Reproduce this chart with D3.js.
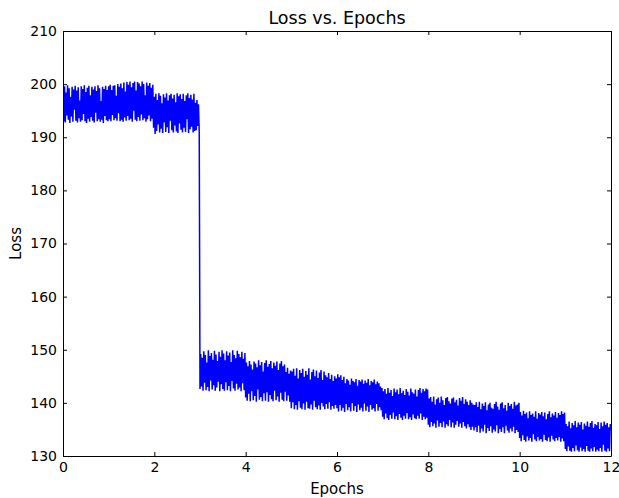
<!DOCTYPE html>
<html>
<head>
<meta charset="utf-8">
<script src="https://cdn.jsdelivr.net/npm/d3@7"></script>
<style>
  body { margin: 0; background: #fff; }
  text { font-family: "DejaVu Sans", sans-serif; fill: #000; }
</style>
</head>
<body>
<div id="chart"></div>
<script>
// loss values, 60 samples per epoch
var lossEpoch0 = [199.1, 193.0, 199.6, 192.8, 198.4, 194.1, 199.8, 193.3, 199.2, 192.7, 197.6, 193.9, 199.5, 192.9, 199.0, 195.2, 199.7, 193.1, 198.8, 192.8, 199.4, 193.6, 196.9, 192.9, 199.6, 193.2, 199.1, 194.4, 199.8, 193.0, 198.5, 192.7, 199.3, 193.5, 199.7, 192.9, 197.9, 193.8, 199.5, 193.1, 199.0, 192.8, 199.6, 194.6, 198.7, 193.0, 199.8, 193.4, 199.2, 192.9, 196.8, 193.3, 199.5, 192.7, 199.1, 194.0, 199.7, 193.2, 198.9, 193.0];
var lossEpoch1 = [199.6, 193.4, 199.9, 193.0, 198.9, 194.2, 199.7, 193.2, 199.8, 193.6, 197.8, 193.1, 200.0, 194.5, 199.5, 193.0, 200.1, 193.3, 199.2, 192.9, 200.3, 193.7, 198.6, 193.1, 200.4, 194.0, 199.9, 193.2, 200.5, 193.5, 199.4, 192.9, 200.2, 195.0, 200.5, 193.3, 198.8, 193.0, 200.4, 193.8, 200.1, 193.1, 199.6, 194.3, 200.5, 193.2, 200.0, 193.6, 197.9, 192.9, 200.3, 193.4, 199.7, 194.1, 200.2, 193.0, 199.3, 193.5, 199.9, 191.8];
var lossEpoch2 = [197.6, 190.6, 198.2, 191.2, 197.0, 192.4, 198.3, 190.9, 197.8, 191.6, 196.4, 190.8, 198.1, 192.8, 197.5, 191.0, 198.3, 191.9, 196.9, 190.8, 197.9, 193.1, 198.2, 191.3, 197.3, 190.9, 198.0, 192.2, 196.6, 191.1, 198.3, 190.8, 197.7, 192.6, 198.1, 191.4, 197.2, 190.9, 198.2, 191.8, 196.8, 191.0, 197.9, 193.4, 198.3, 190.8, 197.4, 191.5, 198.0, 192.0, 197.1, 190.9, 198.2, 191.2, 196.5, 191.3, 197.0, 192.1, 196.2, 191.0];
var lossEpoch3 = [142.6, 149.2, 143.1, 148.5, 142.3, 149.7, 143.8, 149.0, 142.4, 147.6, 143.0, 149.9, 142.2, 148.8, 144.2, 149.4, 142.5, 148.1, 143.3, 149.8, 142.3, 149.1, 142.9, 147.9, 144.0, 149.6, 142.2, 148.7, 143.5, 149.9, 142.6, 149.3, 142.3, 148.0, 143.9, 149.7, 142.4, 148.9, 143.2, 149.5, 142.2, 147.7, 144.1, 149.9, 142.7, 149.0, 142.3, 148.4, 143.6, 149.8, 142.5, 149.2, 142.9, 148.6, 142.2, 149.6, 143.7, 148.3, 142.4, 149.4];
var lossEpoch4 = [141.0, 147.6, 140.4, 146.9, 141.7, 147.9, 140.3, 147.2, 142.2, 146.3, 140.5, 147.8, 141.3, 147.4, 140.2, 146.7, 142.5, 148.0, 140.6, 147.1, 141.1, 147.7, 140.3, 145.9, 141.8, 147.5, 140.4, 148.0, 142.0, 146.8, 140.2, 147.3, 141.5, 147.9, 140.7, 146.5, 140.3, 147.6, 142.3, 147.0, 140.5, 147.8, 141.2, 146.2, 140.2, 147.4, 141.9, 147.9, 140.6, 146.9, 140.3, 147.2, 142.1, 145.8, 140.4, 146.6, 141.4, 145.5, 140.2, 146.1];
var lossEpoch5 = [139.0, 145.9, 140.1, 146.4, 138.8, 145.1, 139.6, 146.5, 138.7, 144.6, 140.3, 146.2, 139.1, 145.6, 138.8, 146.4, 139.9, 144.9, 138.7, 146.0, 140.2, 145.3, 139.0, 146.5, 138.9, 144.4, 139.7, 145.8, 138.7, 146.3, 140.4, 145.0, 139.2, 146.1, 138.8, 144.7, 139.5, 145.7, 138.7, 146.2, 140.0, 144.3, 139.3, 145.9, 138.8, 145.2, 139.8, 144.8, 138.9, 145.6, 140.1, 144.5, 138.7, 145.3, 139.4, 144.1, 138.9, 145.0, 139.6, 144.6];
var lossEpoch6 = [139.0, 145.4, 138.4, 144.8, 139.6, 145.2, 138.5, 144.3, 139.1, 144.9, 138.3, 143.7, 139.8, 144.5, 138.6, 144.2, 139.2, 143.4, 138.4, 144.6, 140.0, 144.1, 138.5, 143.9, 139.4, 144.5, 138.3, 143.2, 139.7, 144.3, 138.6, 144.0, 139.1, 144.4, 138.4, 143.6, 139.9, 144.2, 138.5, 143.8, 139.3, 144.5, 138.3, 143.3, 139.6, 144.1, 138.7, 143.9, 139.0, 144.4, 138.4, 143.5, 139.8, 144.0, 138.5, 143.7, 139.2, 143.1, 138.6, 142.8];
var lossEpoch7 = [137.4, 142.2, 136.9, 142.6, 138.0, 141.7, 137.1, 142.8, 136.8, 141.9, 137.7, 142.4, 137.0, 141.3, 138.2, 142.7, 136.9, 142.0, 137.5, 142.5, 136.8, 141.6, 137.9, 142.8, 137.2, 141.8, 136.8, 142.3, 137.6, 141.5, 137.0, 142.6, 138.1, 142.1, 136.9, 141.4, 137.3, 142.7, 136.8, 142.0, 137.8, 141.7, 137.1, 142.5, 136.9, 141.2, 137.6, 142.4, 137.0, 142.8, 138.0, 141.9, 136.8, 142.6, 137.4, 142.2, 136.9, 142.7, 137.2, 142.5];
var lossEpoch8 = [135.9, 140.8, 135.4, 141.1, 136.4, 140.2, 135.6, 141.2, 136.1, 139.7, 135.3, 140.7, 136.7, 141.0, 135.5, 140.0, 136.2, 141.2, 135.4, 140.5, 136.5, 139.6, 135.3, 140.9, 136.0, 141.1, 135.6, 140.3, 136.8, 139.9, 135.4, 140.8, 136.3, 141.0, 135.3, 140.1, 135.9, 140.6, 136.6, 139.5, 135.5, 140.9, 136.1, 140.4, 135.3, 141.1, 136.4, 139.8, 135.6, 140.7, 135.2, 140.2, 136.0, 139.6, 135.4, 140.5, 134.9, 140.0, 135.5, 139.7];
var lossEpoch9 = [134.8, 139.6, 135.4, 140.1, 134.5, 139.2, 135.7, 140.2, 134.4, 138.8, 135.2, 139.9, 134.6, 139.4, 135.9, 140.1, 134.3, 138.6, 135.3, 139.7, 134.7, 140.0, 135.6, 139.1, 134.4, 138.9, 135.0, 139.8, 134.6, 140.2, 135.8, 139.3, 134.3, 138.7, 135.1, 139.9, 134.5, 140.1, 135.4, 139.0, 134.3, 139.6, 135.7, 138.5, 134.8, 140.0, 134.4, 139.4, 135.2, 139.8, 134.6, 138.9, 135.5, 140.2, 134.3, 139.5, 134.9, 139.7, 134.5, 140.0];
var lossEpoch10 = [133.4, 138.3, 132.8, 137.6, 133.9, 138.5, 133.0, 137.9, 132.7, 138.2, 133.7, 137.1, 132.9, 138.4, 133.4, 137.7, 132.7, 138.0, 134.1, 137.4, 133.1, 138.4, 132.8, 137.0, 133.6, 138.1, 132.9, 137.8, 133.2, 138.3, 132.7, 137.5, 134.0, 138.2, 133.0, 136.9, 132.8, 137.9, 133.5, 138.4, 132.7, 137.3, 133.8, 138.0, 133.1, 137.6, 132.8, 138.3, 133.4, 137.2, 132.9, 138.1, 133.6, 137.7, 132.7, 138.4, 133.3, 137.9, 132.8, 138.2];
var lossEpoch11 = [131.3, 136.0, 130.9, 135.6, 131.8, 136.5, 131.0, 135.2, 130.8, 136.2, 131.5, 135.8, 130.9, 136.6, 132.0, 135.4, 131.1, 136.3, 130.8, 135.9, 131.6, 136.4, 130.9, 135.0, 131.3, 136.1, 130.8, 135.7, 131.9, 136.5, 131.0, 135.5, 130.8, 136.2, 131.4, 136.6, 130.9, 135.3, 131.7, 136.0, 130.8, 135.8, 131.2, 136.4, 130.9, 135.1, 131.5, 136.3, 130.8, 135.6, 132.1, 136.5, 131.0, 135.9, 130.8, 136.2, 131.4, 135.4, 130.9, 136.0, 134.8];

var xTicks = [0, 2, 4, 6, 8, 10, 12];
var yTicks = [130, 140, 150, 160, 170, 180, 190, 200, 210];
var samplesPerEpoch = 60;

var loss = [].concat(lossEpoch0, lossEpoch1, lossEpoch2, lossEpoch3, lossEpoch4, lossEpoch5,
  lossEpoch6, lossEpoch7, lossEpoch8, lossEpoch9, lossEpoch10, lossEpoch11);

// set the dimensions and margins of the graph
var margin = {top: 31, right: 8, bottom: 42, left: 63},
  width = 619 - margin.left - margin.right,
  height = 498 - margin.top - margin.bottom;

var root = d3.select("#chart")
  .append("svg")
    .attr("width", 619)
    .attr("height", 498);

var svg = root.append("g")
    .attr("transform", "translate(" + margin.left + "," + margin.top + ")");

var x = d3.scaleLinear().domain([0, 12]).range([0, width]);
var y = d3.scaleLinear().domain([130, 210]).range([height, 0]);

svg.append("defs").append("clipPath").attr("id", "clip")
  .append("rect").attr("width", width).attr("height", height);

// the loss line
var line = d3.line()
  .x(function(d, i) { return x(i / samplesPerEpoch); })
  .y(function(d) { return y(d); });

svg.append("path")
  .datum(loss)
  .attr("clip-path", "url(#clip)")
  .attr("fill", "none")
  .attr("stroke", "#0000ff")
  .attr("stroke-width", 1.5)
  .attr("d", line);

// axes with inward ticks on all four sides
function styleAxis(g) {
  g.selectAll("path").attr("stroke", "#000");
  g.selectAll("line").attr("stroke", "#000");
  g.selectAll("text").style("font-size", "14px").style("font-family", "DejaVu Sans, sans-serif");
}

svg.append("g")
  .attr("transform", "translate(0," + height + ")")
  .call(d3.axisBottom(x).tickValues(xTicks).tickSize(-4).tickSizeOuter(0).tickPadding(6))
  .call(styleAxis);

svg.append("g")
  .call(d3.axisTop(x).tickValues(xTicks).tickSize(-4).tickSizeOuter(0).tickFormat(""))
  .call(styleAxis);

svg.append("g")
  .call(d3.axisLeft(y).tickValues(yTicks).tickSize(-4).tickSizeOuter(0).tickPadding(6))
  .call(styleAxis);

svg.append("g")
  .attr("transform", "translate(" + width + ",0)")
  .call(d3.axisRight(y).tickValues(yTicks).tickSize(-4).tickSizeOuter(0).tickFormat(""))
  .call(styleAxis);

// labels
svg.append("text")
  .attr("x", width / 2)
  .attr("y", -7)
  .attr("text-anchor", "middle")
  .style("font-size", "17.5px")
  .text("Loss vs. Epochs");

svg.append("text")
  .attr("x", width / 2)
  .attr("y", height + 38)
  .attr("text-anchor", "middle")
  .style("font-size", "15px")
  .text("Epochs");

svg.append("text")
  .attr("transform", "rotate(-90)")
  .attr("x", -height / 2)
  .attr("y", -42)
  .attr("text-anchor", "middle")
  .style("font-size", "15px")
  .text("Loss");
</script>
</body>
</html>
